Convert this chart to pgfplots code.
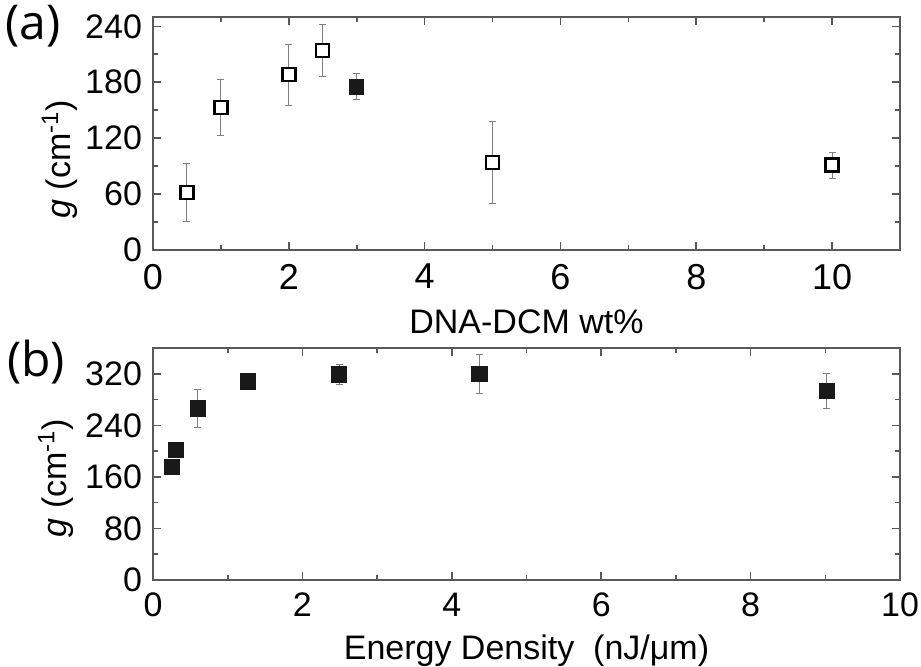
\documentclass[border=0pt]{standalone}
\usepackage{fontspec}
\setmainfont{Liberation Sans}
\newfontfamily\panelfont{Open Sans}
\usepackage{pgfplots}
\usepackage{pgfplotstable}
\pgfplotsset{compat=1.18}

% 1 px of the reference = 0.5pt
\pgfplotstableread{
x y e
0.5 62 31
1.0 153 30
2.0 188 33
2.5 214 28
5.0 94 44
10.0 91 14
}\openA
\pgfplotstableread{
x y e
3.0 175 14
}\filledA
\pgfplotstableread{
x y e
0.25 175 12
0.31 202 4
0.60 266 30
1.27 308 4
2.49 319 15
4.37 320 30
9.02 293 27
}\dataB

\pgfplotsset{
  panel/.style={
    scale only axis,
    width=373.5pt,
    xmin=0,
    axis line style={black!65, line width=1pt},
    tick style={black!65, line width=0.8pt},
    major tick length=4pt,
    minor tick length=2.5pt,
    tick align=inside,
    minor x tick num=1,
    minor y tick num=1,
    ticklabel style={font=\fontsize{17}{20}\selectfont},
    /pgf/number format/assume math mode=true,
    label style={font=\fontsize{17}{20}\selectfont},
    xticklabel style={yshift=-3pt},
    yticklabel style={xshift=-2pt},
  },
  ebar/.style={
    only marks,
    error bars/y dir=both,
    error bars/y explicit,
    error bars/error bar style={black!50, line width=0.5pt},
    error bars/error mark options={rotate=90, black!50, mark size=1.75pt, line width=0.5pt},
  },
}

\begin{document}
\begin{tikzpicture}
\path[use as bounding box] (0,0) rectangle (460.5pt,333pt);

\begin{axis}[panel,
  at={(76.5pt,208pt)}, anchor=south west,
  height=116.5pt,
  xmax=11, ymin=0, ymax=250,
  xtick={0,2,4,6,8,10},
  ytick={0,60,120,180,240},
  xticklabel style={font=\fontsize{18}{21}\selectfont, yshift=-0.5pt},
  xlabel={DNA-DCM wt\%},
  xlabel style={yshift=-3pt},
  ylabel={\textit{g} (cm\textsuperscript{-1})},
  ylabel style={at={(axis description cs:-0.125,0.39)}, anchor=center},
]
\addplot+[ebar, mark=square*, mark options={draw=black, fill=white, line width=1.2pt, mark size=3.25pt}]
  table[x=x, y=y, y error=e] {\openA};
\addplot+[ebar, mark=square*, mark options={draw=black!90, fill=black!90, line width=0.6pt, mark size=3.5pt}]
  table[x=x, y=y, y error=e] {\filledA};
\end{axis}

\begin{axis}[panel,
  at={(76.5pt,43pt)}, anchor=south west,
  height=116pt,
  xmax=10, ymin=0, ymax=360,
  xtick={0,2,4,6,8,10},
  ytick={0,80,160,240,320},
  xlabel={Energy Density\ \ (nJ/μm)},
  xlabel style={yshift=-2pt},
  ylabel={\textit{g} (cm\textsuperscript{-1})},
  ylabel style={at={(axis description cs:-0.13,0.44)}, anchor=center},
]
\addplot+[ebar, mark=square*, mark options={draw=black!90, fill=black!90, line width=0.6pt, mark size=3.75pt}]
  table[x=x, y=y, y error=e] {\dataB};
\end{axis}

\node[font=\panelfont\fontsize{24}{28}\selectfont] at (16.5pt,320pt) {(a)};
\node[font=\panelfont\fontsize{24}{28}\selectfont] at (18pt,152pt) {(b)};
\end{tikzpicture}
\end{document}
